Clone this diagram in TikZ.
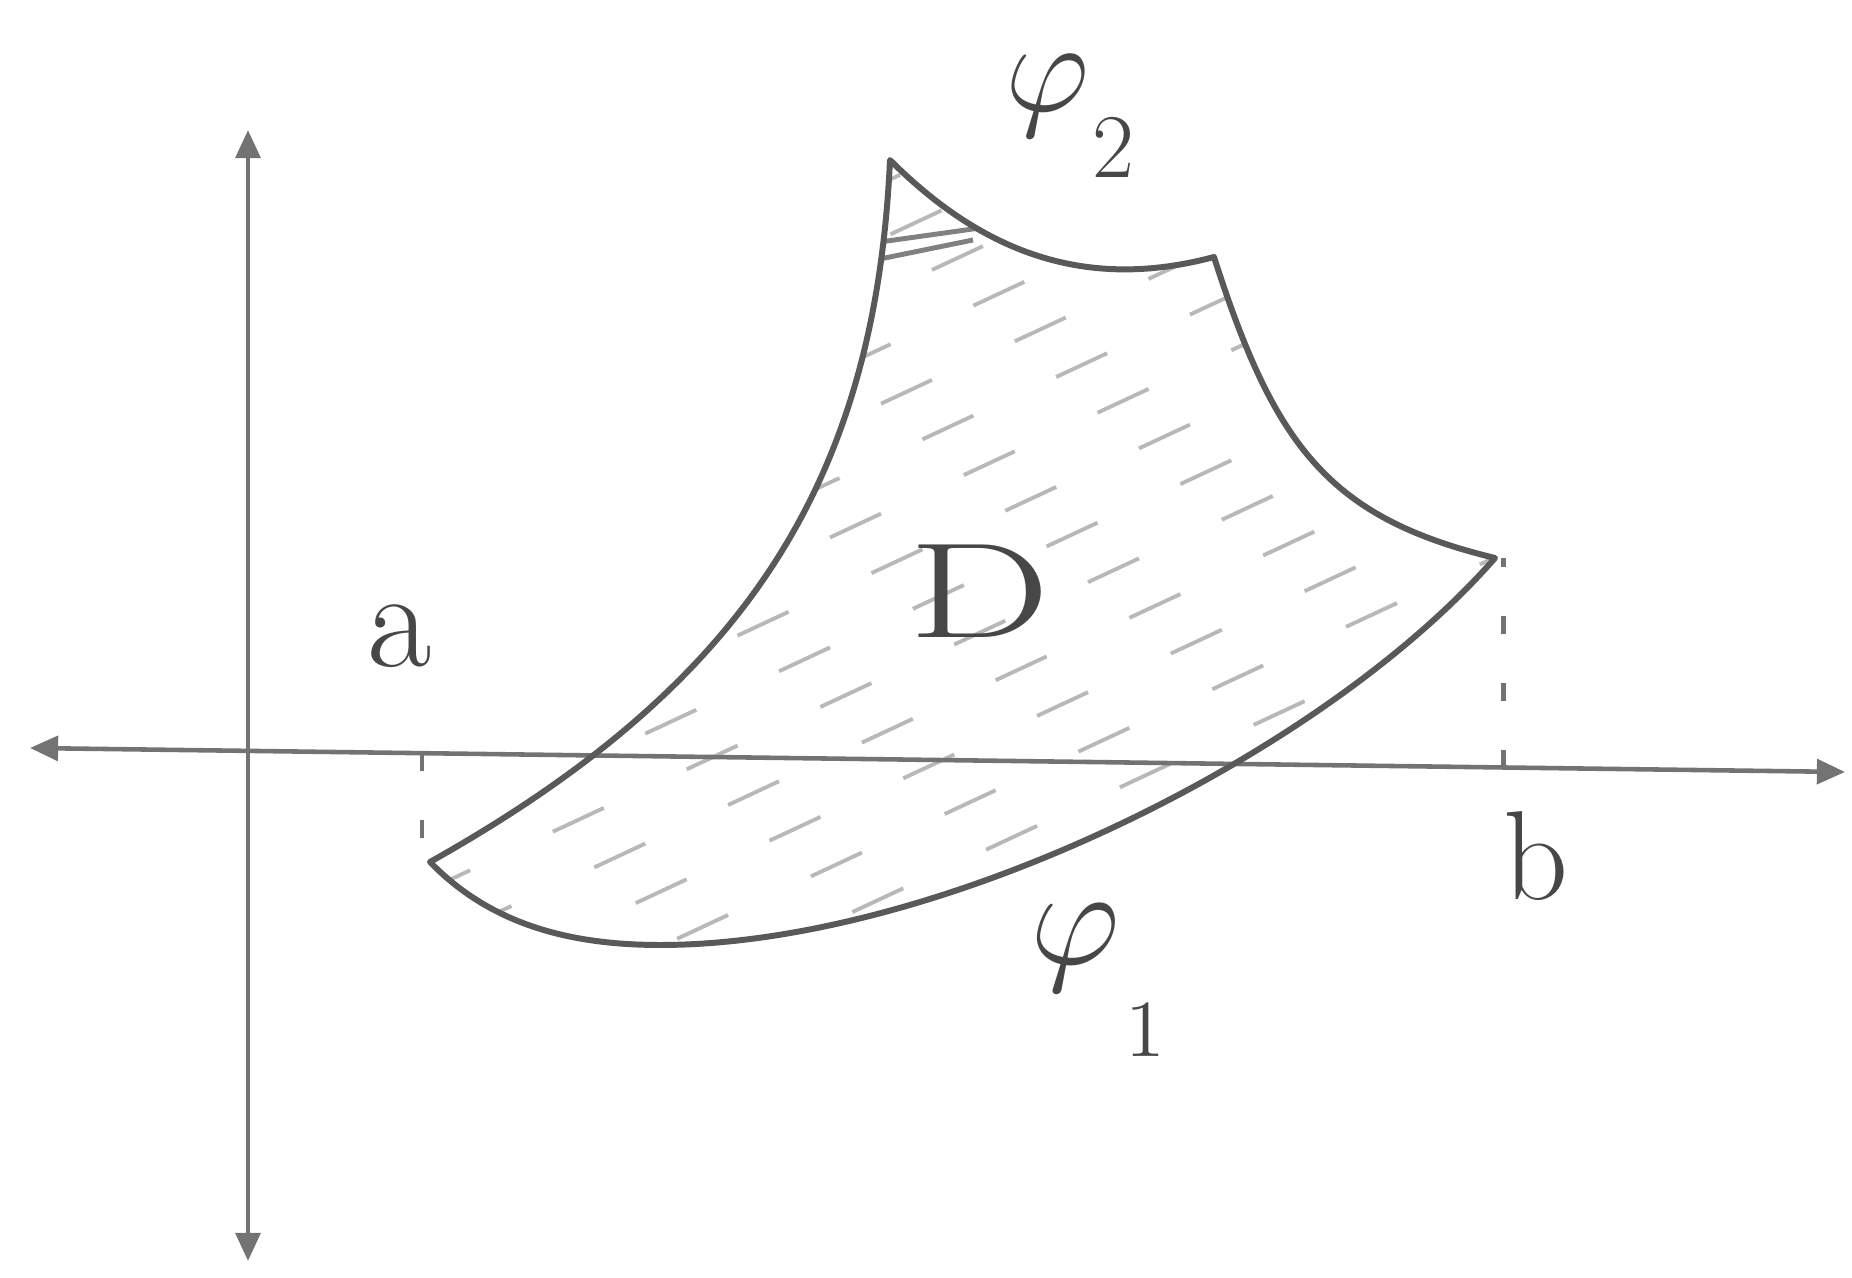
\documentclass[tikz,border=0pt]{standalone}
\usepackage{amsmath}
\usepackage{tikz}
\usetikzlibrary{arrows.meta,calc}

\newcommand{\regionpath}{(p1) .. controls (7.4,5.9) and (8.75,7.9) .. (p2)
  to[out=-45,in=195] (p3) .. controls (12.75,8.3) and (13.3,7.6) .. (p4)
  .. controls (13.24,5.24) and (9.4,3.33) .. (low)
  .. controls (5.6,3.33) and (4.86,3.585) .. (p1) -- cycle}

\begin{document}
\begin{tikzpicture}[
  axis/.style={line width=1.3pt, color=black!55, {Triangle[length=8pt,width=7pt]}-{Triangle[length=8pt,width=7pt]}},
  rim/.style={line width=1.7pt, color=black!65, line join=round},
  hatch/.style={line width=1.1pt, color=black!28, dash pattern=on 16pt off 26pt},
  darkhatch/.style={line width=1.4pt, color=black!50},
  guide/.style={line width=1.3pt, color=black!55, dash pattern=on 5pt off 14pt},
  lbl/.style={color=black!72, inner sep=0pt, font=\Huge, anchor=base}
]
  \useasboundingbox (0,0) rectangle (18.52,12.78);

  % axes
  \coordinate (xl) at (0.30,5.30);
  \coordinate (xr) at (18.45,5.06);
  \coordinate (yt) at (2.48,11.48);
  \coordinate (yb) at (2.48,0.17);
  \coordinate (apt) at ($(xl)!0.216!(xr)$);
  \coordinate (bpt) at ($(xl)!0.812!(xr)$);

  % corners of the region D
  \coordinate (p1) at (4.30,4.16);
  \coordinate (p2) at (8.90,11.18);
  \coordinate (p3) at (12.14,10.21);
  \coordinate (p4) at (14.95,7.20);
  \coordinate (low) at (6.60,3.33);

  % hatching inside D
  \begin{scope}
    \clip \regionpath;
    \foreach \y [count=\k] in {1.0,1.55,...,11.5}
      \draw[hatch, dash phase=\k*13pt] (4,\y) -- ++(25:13);
    \draw[darkhatch] (8.80,10.36) -- (9.80,10.50);
    \draw[darkhatch] (8.80,10.19) -- (9.73,10.38);
  \end{scope}

  \draw[axis] (xl) -- (xr);
  \draw[axis] (yb) -- (yt);
  \draw[guide] (apt) -- (apt |- p1);
  \draw[guide] (bpt) -- (bpt |- p4);

  % boundary of D
  \draw[rim] \regionpath;

  % labels
  \node[lbl, scale=1.6] (alab) at (4.00,6.11) {a};
  \node[lbl, scale=1.45] (blab) at (15.36,3.78) {b};
  \node[lbl, xscale=2.3, yscale=1.55] (dlab) at (9.80,6.40) {D};
  \node[lbl, scale=1.5] (phitwo) at (10.70,11.66) {$\varphi$\kern0.5pt\raisebox{-12.5pt}{\LARGE 2}};
  \node[lbl, scale=1.6] (phione) at (10.98,3.13) {$\varphi$\kern1pt\raisebox{-16.3pt}{\Large 1}};
\end{tikzpicture}
\end{document}
